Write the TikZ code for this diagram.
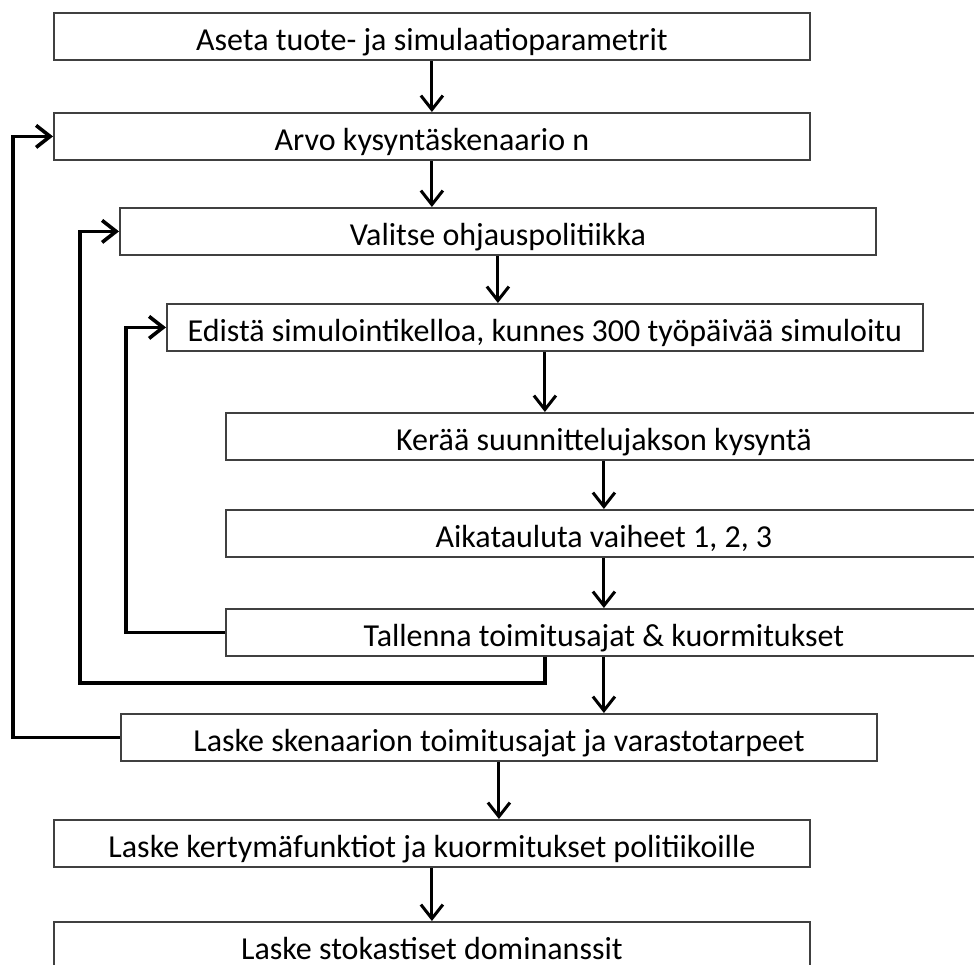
\documentclass[tikz,border=0pt]{standalone}
\usepackage{fontspec}
\setmainfont{Carlito}
\usetikzlibrary{arrows.meta}
\begin{document}
\begin{tikzpicture}[x=1pt,y=-1pt,
    box/.style={draw=black!75, line width=1.8pt, anchor=north west, minimum width=756pt, minimum height=47pt,
      inner sep=0pt, text height=34pt, text depth=5pt, font=\fontsize{32}{38}\selectfont},
    flow/.style={-{Straight Barb[length=14pt,width=22pt]}, line width=3pt},
    loop/.style={flow, line width=3.6pt}]
    \useasboundingbox (0,0) rectangle (974,965);

    \node[box] (set)   at (53,12)   {Aseta tuote- ja simulaatioparametrit};
    \node[box] (scen)  at (53,112)  {Arvo kysyntäskenaario n};
    \node[box] (pol)   at (119,207) {Valitse ohjauspolitiikka};
    \node[box] (clock) at (166,303) {Edistä simulointikelloa, kunnes 300 työpäivää simuloitu};
    \node[box] (dem)   at (225,412) {Kerää suunnittelujakson kysyntä};
    \node[box] (sched) at (225,509) {Aikatauluta vaiheet 1, 2, 3};
    \node[box] (save)  at (225,608) {Tallenna toimitusajat \& kuormitukset};
    \node[box] (lead)  at (120,713) {Laske skenaarion toimitusajat ja varastotarpeet};
    \node[box] (cdf)   at (53,819)  {Laske kertymäfunktiot ja kuormitukset politiikoille};
    \node[box] (dom)   at (53,921)  {Laske stokastiset dominanssit};

    %forward flow
    \foreach \a/\b in {set/scen,scen/pol,pol/clock,clock/dem,dem/sched,sched/save,save/lead,lead/cdf,cdf/dom} {
      \draw[flow] (\a.south) -- (\a.south |- \b.north);
    }

    %loops
    \coordinate (k1) at (126,0);
    \coordinate (k2) at (80,683);
    \coordinate (k3) at (13,0);
    \draw[loop] (save.west) -| (k1 |- clock.west) -- (clock.west);
    \draw[loop] (clock.south |- save.south) |- (k2) |- (pol.west);
    \draw[loop] (lead.west) -| (k3 |- scen.west) -- (scen.west);
\end{tikzpicture}
\end{document}
